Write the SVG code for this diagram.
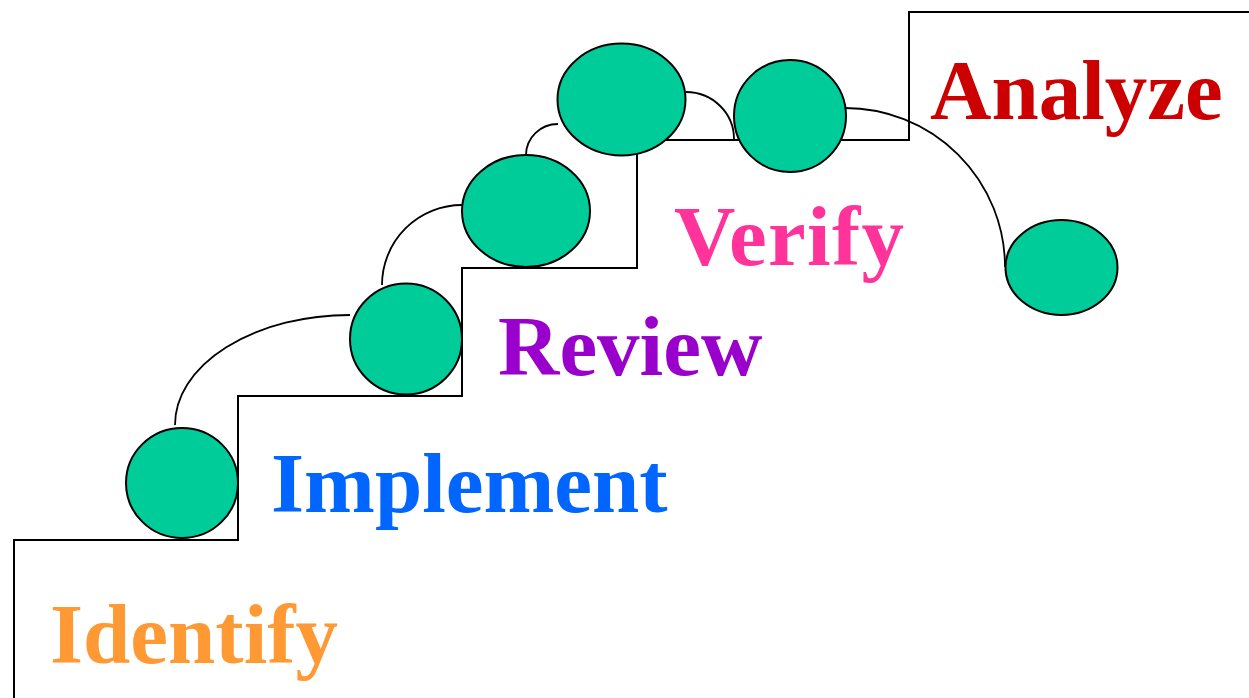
<svg xmlns="http://www.w3.org/2000/svg" width="1249" height="698" viewBox="0 0 1249 698">
  <style>
    .step { fill: none; stroke: #000; stroke-width: 2; }
    .link { fill: none; stroke: #000; stroke-width: 1.8; }
    .ball { fill: #00CC99; stroke: #000; stroke-width: 2; }
    .label { font-family: "Liberation Serif", "Times New Roman", serif; font-weight: bold; font-size: 85px; }
  </style>
  <rect width="1249" height="698" fill="#fff"/>

  <!-- staircase outline -->
  <g id="stairs">
    <path class="step" d="M14,698 V540 H238 V396 H462 V268 H637 V140 H909 V12 H1249"/>
  </g>

  <!-- curved paths joining the balls -->
  <g id="connectors">
    <path class="link" d="M175,425 A175,110 0 0 1 350,315"/>
    <path class="link" d="M382,285 A80,80 0 0 1 462,205"/>
    <path class="link" d="M526,155 A32,31 0 0 1 558,124"/>
    <path class="link" d="M686,92 A48,47 0 0 1 734,139"/>
    <path class="link" d="M845,108 A160,159 0 0 1 1005,267"/>
  </g>

  <g id="ball1"><ellipse class="ball" cx="182" cy="483" rx="56" ry="55"/></g>
  <g id="ball2"><ellipse class="ball" cx="406" cy="339" rx="56" ry="55.5"/></g>
  <g id="ball3"><ellipse class="ball" cx="526" cy="211" rx="64" ry="56"/></g>
  <g id="ball4"><ellipse class="ball" cx="621.5" cy="99.5" rx="64" ry="56"/></g>
  <g id="ball5"><ellipse class="ball" cx="790" cy="116" rx="56" ry="56"/></g>
  <g id="ball6"><ellipse class="ball" cx="1061.5" cy="267.5" rx="56" ry="47.5"/></g>

  <g id="identify"><text class="label" x="50" y="663" fill="#FF9933">Identify</text></g>
  <g id="implement"><text class="label" x="271" y="512" fill="#0066FF">Implement</text></g>
  <g id="review"><text class="label" x="498" y="375" fill="#9900CC">Review</text></g>
  <g id="verify"><text class="label" x="674" y="265" fill="#FF3399" textLength="230" lengthAdjust="spacing">Verify</text></g>
  <g id="analyze"><text class="label" x="930" y="119" fill="#CC0000">Analyze</text></g>
</svg>
